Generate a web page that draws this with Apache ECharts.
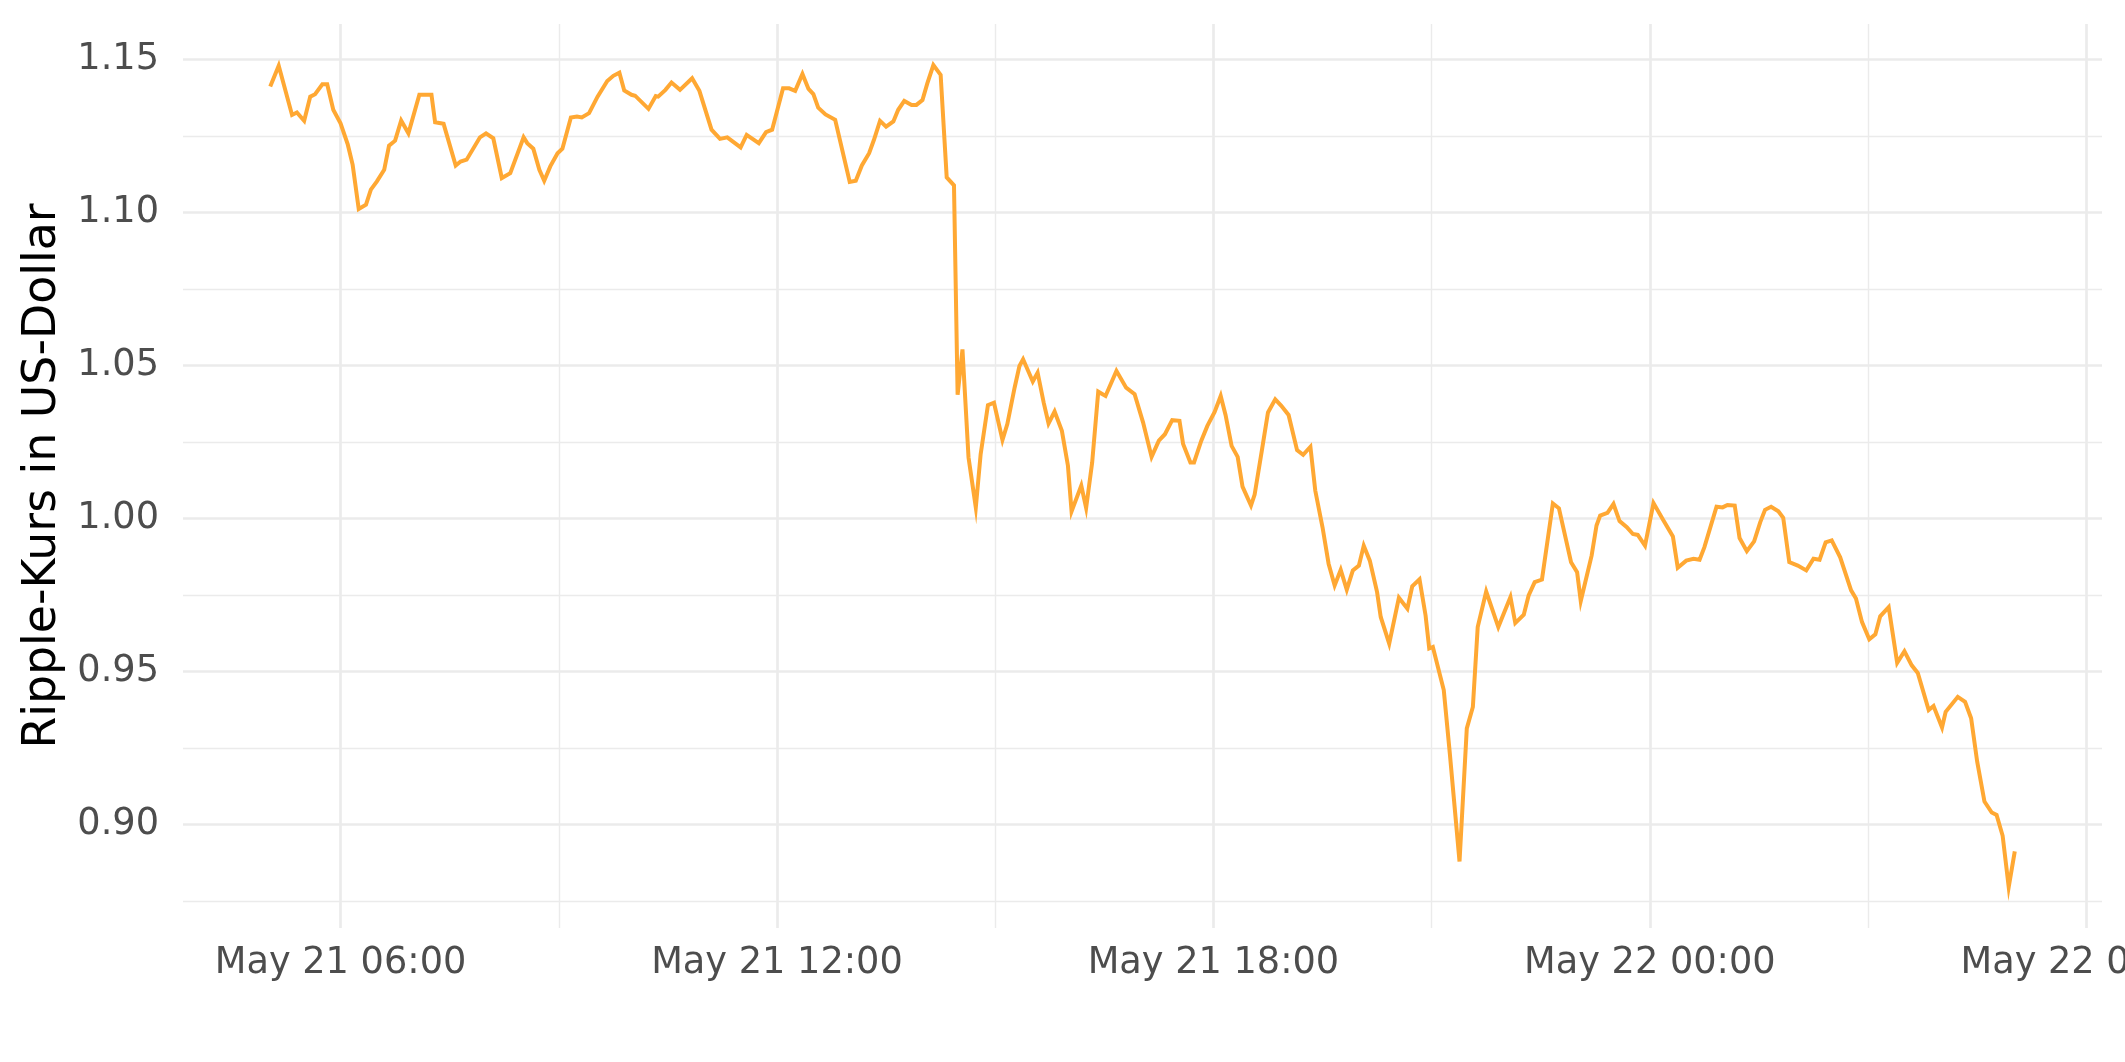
<!DOCTYPE html>
<html><head><meta charset="utf-8">
<script src="https://cdn.jsdelivr.net/npm/echarts@6/dist/echarts.min.js"></script>
<style>html,body{margin:0;padding:0;background:#fff}#c{width:2125px;height:1062px}</style>
</head><body><div id="c"></div>
<script>
// Time stamps (2021, MM-DD HH:MM) of each observation
const times = [
'05-21 05:02','05-21 05:09','05-21 05:20','05-21 05:24','05-21 05:30','05-21 05:35','05-21 05:39','05-21 05:45','05-21 05:49','05-21 05:54',
'05-21 06:00','05-21 06:06','05-21 06:10','05-21 06:15','05-21 06:21','05-21 06:25','05-21 06:30','05-21 06:36','05-21 06:40','05-21 06:45',
'05-21 06:50','05-21 06:56','05-21 07:05','05-21 07:15','05-21 07:18','05-21 07:25','05-21 07:35','05-21 07:39','05-21 07:44','05-21 07:55',
'05-21 08:00','05-21 08:06','05-21 08:13','05-21 08:20','05-21 08:31','05-21 08:34','05-21 08:39','05-21 08:44','05-21 08:48','05-21 08:53',
'05-21 08:59','05-21 09:03','05-21 09:10','05-21 09:15','05-21 09:19','05-21 09:25','05-21 09:32','05-21 09:40','05-21 09:45','05-21 09:50',
'05-21 09:54','05-21 10:00','05-21 10:03','05-21 10:14','05-21 10:20','05-21 10:22','05-21 10:28','05-21 10:33','05-21 10:40','05-21 10:50',
'05-21 10:56','05-21 11:06','05-21 11:13','05-21 11:19','05-21 11:30','05-21 11:35','05-21 11:45','05-21 11:51','05-21 11:56','05-21 12:05',
'05-21 12:10','05-21 12:15','05-21 12:21','05-21 12:26','05-21 12:30','05-21 12:34','05-21 12:40','05-21 12:48','05-21 13:00','05-21 13:05',
'05-21 13:10','05-21 13:16','05-21 13:20','05-21 13:25','05-21 13:30','05-21 13:36','05-21 13:40','05-21 13:45','05-21 13:51','05-21 13:55',
'05-21 14:00','05-21 14:04','05-21 14:09','05-21 14:15','05-21 14:20','05-21 14:26','05-21 14:29','05-21 14:33','05-21 14:38','05-21 14:44',
'05-21 14:48','05-21 14:54','05-21 14:59','05-21 15:06','05-21 15:10','05-21 15:16','05-21 15:20','05-21 15:23','05-21 15:31','05-21 15:35',
'05-21 15:40','05-21 15:44','05-21 15:49','05-21 15:55','05-21 16:00','05-21 16:03','05-21 16:11','05-21 16:15','05-21 16:20','05-21 16:25',
'05-21 16:31','05-21 16:40','05-21 16:48','05-21 16:55','05-21 17:02','05-21 17:09','05-21 17:15','05-21 17:20','05-21 17:26','05-21 17:32',
'05-21 17:35','05-21 17:41','05-21 17:44','05-21 17:50','05-21 17:55','05-21 18:01','05-21 18:06','05-21 18:10','05-21 18:15','05-21 18:20',
'05-21 18:24','05-21 18:31','05-21 18:34','05-21 18:40','05-21 18:45','05-21 18:51','05-21 18:56','05-21 19:02','05-21 19:09','05-21 19:14',
'05-21 19:20','05-21 19:24','05-21 19:30','05-21 19:35','05-21 19:40','05-21 19:45','05-21 19:50','05-21 19:55','05-21 20:00','05-21 20:04',
'05-21 20:09','05-21 20:15','05-21 20:18','05-21 20:25','05-21 20:33','05-21 20:40','05-21 20:44','05-21 20:50','05-21 20:55','05-21 20:58',
'05-21 21:01','05-21 21:10','05-21 21:15','05-21 21:23','05-21 21:29','05-21 21:34','05-21 21:38','05-21 21:45','05-21 21:55','05-21 22:00',
'05-21 22:05','05-21 22:09','05-21 22:16','05-21 22:20','05-21 22:25','05-21 22:31','05-21 22:40','05-21 22:45','05-21 22:55','05-21 23:00',
'05-21 23:03','05-21 23:12','05-21 23:16','05-21 23:19','05-21 23:25','05-21 23:30','05-21 23:35','05-21 23:41','05-21 23:46','05-21 23:50',
'05-21 23:56','05-22 00:03','05-22 00:11','05-22 00:19','05-22 00:23','05-22 00:30','05-22 00:36','05-22 00:41','05-22 00:45','05-22 00:55',
'05-22 01:00','05-22 01:04','05-22 01:10','05-22 01:14','05-22 01:20','05-22 01:26','05-22 01:31','05-22 01:35','05-22 01:40','05-22 01:46',
'05-22 01:50','05-22 01:55','05-22 02:02','05-22 02:09','05-22 02:15','05-22 02:20','05-22 02:25','05-22 02:30','05-22 02:37','05-22 02:46',
'05-22 02:50','05-22 02:55','05-22 03:01','05-22 03:06','05-22 03:10','05-22 03:17','05-22 03:24','05-22 03:30','05-22 03:36','05-22 03:41',
'05-22 03:50','05-22 03:54','05-22 04:01','05-22 04:04','05-22 04:14','05-22 04:20','05-22 04:25','05-22 04:30','05-22 04:36','05-22 04:42',
'05-22 04:46','05-22 04:51','05-22 04:56','05-22 05:01'
];
// Ripple price in USD
const prices = [
1.1411,1.1479,1.1318,1.1326,1.1299,1.1378,1.1386,1.1418,1.1418,1.1335,
1.1291,1.1221,1.1155,1.1011,1.1025,1.1074,1.1101,1.1139,1.1218,1.1234,
1.1300,1.1258,1.1384,1.1384,1.1294,1.1289,1.1153,1.1166,1.1172,1.1245,
1.1258,1.1242,1.1112,1.1128,1.1245,1.1226,1.1208,1.1139,1.1103,1.1150,
1.1193,1.1208,1.1310,1.1313,1.1310,1.1324,1.1378,1.1429,1.1446,1.1456,
1.1398,1.1384,1.1381,1.1338,1.1380,1.1378,1.1400,1.1424,1.1400,1.1438,
1.1397,1.1270,1.1240,1.1245,1.1212,1.1253,1.1226,1.1262,1.1270,1.1405,
1.1405,1.1397,1.1452,1.1403,1.1386,1.1342,1.1320,1.1302,1.1099,1.1103,
1.1153,1.1193,1.1237,1.1299,1.1280,1.1297,1.1335,1.1364,1.1351,1.1351,
1.1367,1.1421,1.1481,1.1449,1.1114,1.1088,1.0404,1.0552,1.0199,1.0036,
1.0210,1.0370,1.0378,1.0256,1.0308,1.0427,1.0498,1.0520,1.0447,1.0476,
1.0378,1.0310,1.0349,1.0286,1.0172,1.0023,1.0107,1.0034,1.0183,1.0414,
1.0400,1.0482,1.0427,1.0406,1.0313,1.0201,1.0254,1.0275,1.0321,1.0319,
1.0243,1.0183,1.0183,1.0254,1.0302,1.0348,1.0400,1.0338,1.0237,1.0201,
1.0104,1.0042,1.0078,1.0223,1.0346,1.0389,1.0368,1.0338,1.0223,1.0208,
1.0234,1.0091,0.9971,0.9852,0.9781,0.9832,0.9767,0.9830,0.9846,0.9911,
0.9862,0.9759,0.9678,0.9591,0.9741,0.9705,0.9778,0.9801,0.9683,0.9575,
0.9580,0.9439,0.9232,0.8879,0.9314,0.9384,0.9645,0.9761,0.9645,0.9694,
0.9743,0.9658,0.9685,0.9748,0.9792,0.9800,1.0049,1.0033,0.9857,0.9824,
0.9730,0.9879,0.9977,1.0009,1.0018,1.0047,0.9991,0.9971,0.9949,0.9946,
0.9911,1.0050,0.9995,0.9941,0.9839,0.9862,0.9868,0.9865,0.9906,1.0038,
1.0036,1.0044,1.0042,0.9936,0.9893,0.9925,0.9987,1.0028,1.0038,1.0023,
1.0002,0.9857,0.9846,0.9830,0.9868,0.9865,0.9922,0.9928,0.9873,0.9765,
0.9738,0.9661,0.9605,0.9621,0.9680,0.9710,0.9528,0.9566,0.9520,0.9495,
0.9374,0.9387,0.9317,0.9368,0.9417,0.9401,0.9347,0.9205,0.9075,0.9039,
0.9031,0.8963,0.8796,0.8912
];
const yMajorTicks = [0.90, 0.95, 1.00, 1.05, 1.10, 1.15];
const yMinorTicks = [0.875, 0.925, 0.975, 1.025, 1.075, 1.125];
const xMajorTicks = ['05-21 06:00','05-21 12:00','05-21 18:00','05-22 00:00','05-22 06:00'];
const xMinorTicks = ['05-21 09:00','05-21 15:00','05-21 21:00','05-22 03:00'];
const yTitle = 'Ripple-Kurs in US-Dollar';

function toMs(s) {
  const [md, hm] = s.split(' ');
  const [mo, d] = md.split('-').map(Number);
  const [h, mi] = hm.split(':').map(Number);
  return Date.UTC(2021, mo - 1, d, h, mi);
}
const MONTHS = ['Jan','Feb','Mar','Apr','May','Jun','Jul','Aug','Sep','Oct','Nov','Dec'];
function fmtTime(v) {
  const d = new Date(v);
  const p = n => String(n).padStart(2, '0');
  return MONTHS[d.getUTCMonth()] + ' ' + d.getUTCDate() + ' ' + p(d.getUTCHours()) + ':' + p(d.getUTCMinutes());
}

const xs = times.map(toMs);
const data = xs.map((x, i) => [x, prices[i]]);
const xLo = Math.min(...xs), xHi = Math.max(...xs);
const yLo = Math.min(...prices), yHi = Math.max(...prices);
const xPad = (xHi - xLo) * 0.05, yPad = (yHi - yLo) * 0.05;
const xMin = xLo - xPad, xMax = xHi + xPad, yMin = yLo - yPad, yMax = yHi + yPad;

const FONT = 'DejaVu Sans';
const GRID = '#EBEBEB';
const chart = echarts.init(document.getElementById('c'), null, {renderer: 'canvas'});
chart.setOption({
  animation: false,
  backgroundColor: '#ffffff',
  grid: {left: 183, right: 23, top: 24, bottom: 134, containLabel: false, outerBoundsMode: 'none'},
  xAxis: [
    {
      type: 'value', min: xMin, max: xMax, position: 'bottom',
      axisLine: {show: false},
      axisTick: {show: false, customValues: xMajorTicks.map(toMs)},
      axisLabel: {customValues: xMajorTicks.map(toMs), formatter: fmtTime, color: '#4D4D4D',
                  fontSize: 36.7, fontFamily: FONT, margin: 17},
      splitLine: {show: true, lineStyle: {color: GRID, width: 2.7}},
      z: 1
    },
    {
      type: 'value', min: xMin, max: xMax, position: 'bottom',
      axisLine: {show: false},
      axisTick: {show: false, customValues: xMinorTicks.map(toMs)},
      axisLabel: {show: false, customValues: xMinorTicks.map(toMs)},
      splitLine: {show: true, lineStyle: {color: GRID, width: 1.4}},
      z: 0
    }
  ],
  yAxis: [
    {
      type: 'value', min: yMin, max: yMax, position: 'left',
      axisLine: {show: false},
      axisTick: {show: false, customValues: yMajorTicks},
      axisLabel: {customValues: yMajorTicks, formatter: v => v.toFixed(2), color: '#4D4D4D',
                  fontSize: 36.7, fontFamily: FONT, margin: 24},
      splitLine: {show: true, lineStyle: {color: GRID, width: 2.7}},
      name: yTitle, nameLocation: 'middle', nameGap: 116, nameRotate: 90,
      nameTextStyle: {fontSize: 45.8, color: '#000000', fontFamily: FONT},
      z: 1
    },
    {
      type: 'value', min: yMin, max: yMax, position: 'left',
      axisLine: {show: false},
      axisTick: {show: false, customValues: yMinorTicks},
      axisLabel: {show: false, customValues: yMinorTicks},
      splitLine: {show: true, lineStyle: {color: GRID, width: 1.4}},
      z: 0
    }
  ],
  series: [{
    type: 'line', xAxisIndex: 0, yAxisIndex: 0, data: data,
    showSymbol: false, symbol: 'none',
    lineStyle: {color: '#FFA833', width: 4, join: 'miter'},
    itemStyle: {color: '#FFA833'},
    z: 5
  }]
});
</script></body></html>
